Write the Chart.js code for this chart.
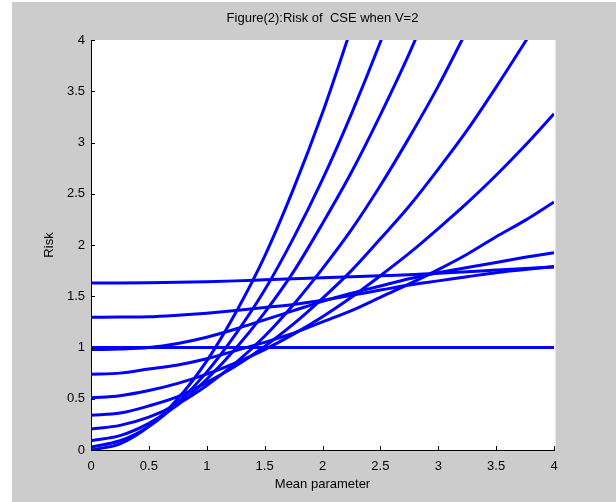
<!DOCTYPE html>
<html>
<head>
<meta charset="utf-8">
<script src="https://cdn.jsdelivr.net/npm/chart.js@4/dist/chart.umd.min.js"></script>
<style>
  html, body { margin: 0; padding: 0; background: #fff; }
  canvas { display: block; }
</style>
</head>
<body>
<canvas id="riskChart" width="616" height="502"></canvas>
<script>
// mean parameter values the curves were read at
const theta = [0, 0.25, 0.5, 0.75, 1, 1.25, 1.5, 1.75, 2, 2.25, 2.5, 2.75, 3, 3.25, 3.5, 3.75, 4];
const xTickValues = [0, 0.5, 1, 1.5, 2, 2.5, 3, 3.5, 4];
const xTickLabels = ['0', '0.5', '1', '1.5', '2', '2.5', '3', '3.5', '4'];
const yTickValues = [0, 0.5, 1, 1.5, 2, 2.5, 3, 3.5, 4];
const yTickLabels = ['0', '0.5', '1', '1.5', '2', '2.5', '3', '3.5', '4'];

// risk curves (steepest first)
const risk1 = [0, 0.06, 0.23, 0.50, 0.87, 1.34, 1.89, 2.55, 3.29, 4.12];
const risk2 = [0.03, 0.09, 0.23, 0.46, 0.76, 1.13, 1.56, 2.07, 2.64, 3.28, 3.98, 4.74];
const risk3 = [0.09, 0.14, 0.26, 0.44, 0.69, 0.99, 1.34, 1.74, 2.21, 2.71, 3.27, 3.87, 4.53];
const risk4 = [0.205, 0.24, 0.32, 0.45, 0.63, 0.85, 1.11, 1.42, 1.77, 2.15, 2.58, 3.05, 3.55, 4.10];
const risk5 = [0.34, 0.36, 0.43, 0.52, 0.66, 0.82, 1.01, 1.23, 1.48, 1.75, 2.06, 2.38, 2.74, 3.12, 3.54, 3.98, 4.43];
const risk6 = [0.51, 0.53, 0.58, 0.65, 0.74, 0.85, 0.98, 1.13, 1.30, 1.49, 1.70, 1.92, 2.16, 2.41, 2.68, 2.97, 3.28];
const risk7 = [0.74, 0.75, 0.79, 0.83, 0.89, 0.97, 1.05, 1.14, 1.25, 1.36, 1.49, 1.62, 1.76, 1.91, 2.08, 2.24, 2.42];
const risk8 = [0.98, 0.985, 1.0, 1.04, 1.10, 1.18, 1.27, 1.36, 1.45, 1.53, 1.60, 1.67, 1.73, 1.78, 1.83, 1.88, 1.925];
const risk9 = [1.295, 1.297, 1.30, 1.315, 1.335, 1.36, 1.39, 1.42, 1.46, 1.51, 1.56, 1.61, 1.65, 1.69, 1.73, 1.76, 1.79];
const risk10 = [1.63, 1.63, 1.632, 1.636, 1.642, 1.65, 1.66, 1.67, 1.68, 1.69, 1.70, 1.71, 1.725, 1.74, 1.755, 1.77, 1.785];
const riskFlat = [1, 1, 1, 1, 1, 1, 1, 1, 1, 1, 1, 1, 1, 1, 1, 1, 1];

const allRisks = [risk1, risk2, risk3, risk4, risk5, risk6, risk7, risk8, risk9, risk10, riskFlat];

const fontFamily = "'Liberation Sans', Arial, sans-serif";

// gray figure, white axes box
const figureBackground = {
  id: 'figureBackground',
  beforeDraw(chart) {
    const ctx = chart.ctx;
    const a = chart.chartArea;
    ctx.save();
    ctx.fillStyle = '#ffffff';
    ctx.fillRect(0, 0, chart.width, chart.height);
    ctx.fillStyle = '#cccccc';
    ctx.fillRect(12, 2, chart.width - 12, chart.height - 2);
    ctx.fillStyle = '#ffffff';
    ctx.fillRect(a.left, a.top, a.right - a.left + 1, a.bottom - a.top);
    ctx.fillStyle = '#e4e4e4';
    ctx.fillRect(a.right + 1, a.top, 1, a.bottom - a.top);
    ctx.restore();
  }
};

// matlab style ticks pointing into the plot
const inwardTicks = {
  id: 'inwardTicks',
  afterDraw(chart) {
    const ctx = chart.ctx;
    const x = chart.scales.x;
    const y = chart.scales.y;
    const a = chart.chartArea;
    ctx.save();
    ctx.strokeStyle = '#000';
    ctx.lineWidth = 1;
    ctx.beginPath();
    xTickValues.forEach(v => {
      const px = Math.round(x.getPixelForValue(v)) + 0.5;
      ctx.moveTo(px, a.bottom);
      ctx.lineTo(px, a.bottom - 4);
    });
    yTickValues.forEach(v => {
      const py = Math.round(y.getPixelForValue(v)) + 0.5;
      ctx.moveTo(a.left, py);
      ctx.lineTo(a.left + 4, py);
    });
    ctx.stroke();
    ctx.restore();
  }
};

const ctx = document.getElementById('riskChart').getContext('2d');

const riskChart = new Chart(ctx, {
  type: 'line',
  data: {
    datasets: allRisks.map(r => ({
      data: r.map((v, i) => ({ x: theta[i], y: v })),
      borderColor: '#0000ff',
      backgroundColor: '#0000ff',
      borderWidth: 3,
      pointRadius: 0,
      cubicInterpolationMode: 'monotone',
      fill: false
    }))
  },
  options: {
    responsive: false,
    animation: false,
    layout: {
      padding: { top: 11, right: 62, bottom: 0, left: 0 }
    },
    plugins: {
      legend: { display: false },
      tooltip: { enabled: false },
      title: {
        display: true,
        fullSize: false,
        text: 'Figure(2):Risk of  CSE when V=2',
        color: '#000',
        font: { family: fontFamily, size: 13, weight: 'normal' },
        padding: { top: 0, bottom: 13.4 }
      }
    },
    scales: {
      x: {
        type: 'linear',
        min: 0,
        max: 4,
        afterFit(scale) { scale.height = 52; },
        afterBuildTicks(scale) { scale.ticks = xTickValues.map(v => ({ value: v })); },
        grid: { drawOnChartArea: false, drawTicks: false },
        border: { display: true, color: '#000', width: 1 },
        ticks: {
          color: '#000',
          padding: 9,
          maxRotation: 0,
          autoSkip: false,
          font: { family: fontFamily, size: 13 },
          callback: (v) => xTickLabels[xTickValues.indexOf(v)]
        },
        title: {
          display: true,
          text: 'Mean parameter',
          color: '#000',
          font: { family: fontFamily, size: 13 },
          padding: { top: 0, bottom: 10 }
        }
      },
      y: {
        min: 0,
        max: 4,
        afterFit(scale) { scale.width = 91; },
        afterBuildTicks(scale) { scale.ticks = yTickValues.map(v => ({ value: v })); },
        grid: { drawOnChartArea: false, drawTicks: false },
        border: { display: true, color: '#000', width: 1 },
        ticks: {
          color: '#000',
          padding: 6,
          autoSkip: false,
          font: { family: fontFamily, size: 13 },
          callback: (v) => yTickLabels[yTickValues.indexOf(v)]
        },
        title: {
          display: true,
          text: 'Risk',
          color: '#000',
          font: { family: fontFamily, size: 13 },
          padding: { top: 42, bottom: 0 }
        }
      }
    }
  },
  plugins: [figureBackground, inwardTicks]
});
</script>
</body>
</html>
